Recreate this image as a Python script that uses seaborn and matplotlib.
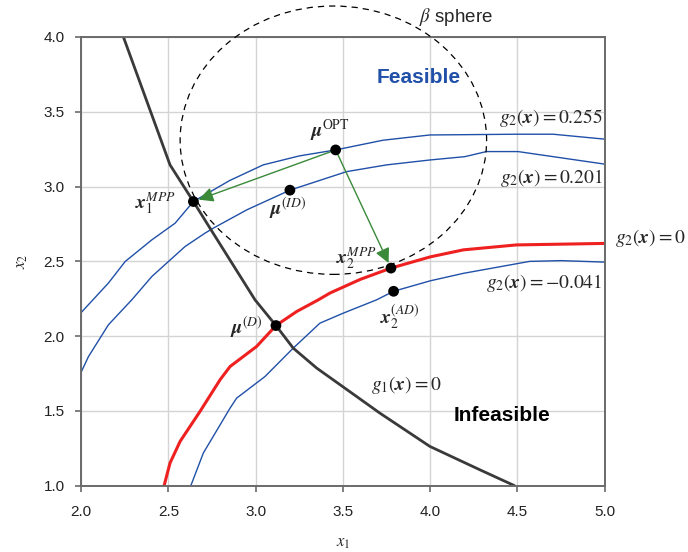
import numpy as np
import matplotlib
matplotlib.use("Agg")
import matplotlib.pyplot as plt
from matplotlib.patches import Ellipse
import seaborn as sns

### Data

# g1(x) = 0 limit state
g1_x = [2.242, 2.509, 2.643, 2.738, 2.996, 3.116, 3.215, 3.349, 3.502, 3.711, 3.998, 4.284, 4.484]
g1_y = [4.000, 3.145, 2.900, 2.722, 2.243, 2.071, 1.920, 1.787, 1.660, 1.486, 1.263, 1.107, 1.000]

# g2(x) = 0 limit state
g2_0_x = [2.475, 2.509, 2.567, 2.681, 2.796, 2.853, 3.005, 3.116, 3.235, 3.359, 3.425, 3.600, 3.775, 4.000, 4.190, 4.494, 5.000]
g2_0_y = [1.000, 1.152, 1.297, 1.497, 1.709, 1.797, 1.931, 2.071, 2.165, 2.243, 2.288, 2.380, 2.455, 2.530, 2.577, 2.610, 2.620]

# g2(x) = -0.041
g2_m041_x = [2.628, 2.700, 2.853, 2.891, 3.053, 3.215, 3.368, 3.502, 3.693, 3.790, 4.000, 4.190, 4.570, 4.750, 5.000]
g2_m041_y = [1.000, 1.219, 1.519, 1.586, 1.730, 1.920, 2.087, 2.154, 2.243, 2.300, 2.370, 2.420, 2.500, 2.505, 2.495]

# g2(x) = 0.255
g2_255_x = [2.000, 2.156, 2.252, 2.405, 2.538, 2.643, 2.850, 3.043, 3.250, 3.458, 3.730, 3.998, 4.500, 4.704, 5.000]
g2_255_y = [2.158, 2.355, 2.499, 2.644, 2.755, 2.900, 3.040, 3.145, 3.205, 3.245, 3.310, 3.345, 3.350, 3.350, 3.317]

# g2(x) = 0.201
g2_201_x = [2.000, 2.042, 2.156, 2.290, 2.405, 2.500, 2.595, 2.710, 2.757, 2.950, 3.196, 3.521, 3.750, 4.000, 4.198, 4.322, 4.503, 5.000]
g2_201_y = [1.760, 1.864, 2.076, 2.243, 2.399, 2.499, 2.599, 2.689, 2.722, 2.845, 2.976, 3.100, 3.145, 3.178, 3.200, 3.234, 3.234, 3.150]

# marked design points
pt_names = ["mu_opt", "mu_id", "x1_mpp", "x2_mpp", "x2_ad", "mu_d"]
pt_x = [3.458, 3.196, 2.643, 3.775, 3.790, 3.116]
pt_y = [3.245, 2.976, 2.900, 2.455, 2.300, 2.071]

# beta sphere (centre and half-axes in data units)
beta_centre = (3.445, 3.31)
beta_rx, beta_ry = 0.878, 0.897

### Styling

sns.set_style("white")
plt.rcParams["font.family"] = ["Liberation Sans", "DejaVu Sans"]
plt.rcParams["mathtext.fontset"] = "stix"

BLUE = "#2050a8"
RED = "#ee2020"
DARK = "#3a3a3a"
GREEN = "#3a8a3a"
SPINE = "#6a6a6a"

fig = plt.figure(figsize=(6.88, 5.52), dpi=100)
ax = fig.add_axes([0.118, 0.120, 0.761, 0.813])

for xs, ys in [(g2_255_x, g2_255_y), (g2_201_x, g2_201_y), (g2_m041_x, g2_m041_y)]:
    sns.lineplot(x=xs, y=ys, sort=False, estimator=None, color=BLUE, lw=1.0, ax=ax)
sns.lineplot(x=g2_0_x, y=g2_0_y, sort=False, estimator=None, color=RED, lw=2.2, ax=ax)
sns.lineplot(x=g1_x, y=g1_y, sort=False, estimator=None, color=DARK, lw=2.0, ax=ax)

ell = Ellipse(beta_centre, 2 * beta_rx, 2 * beta_ry, fill=False, ls=(0, (5, 4)),
              lw=0.9, color="black", clip_on=False, zorder=3)
ax.add_patch(ell)

# arrows from the optimum to the two MPPs
for i in [2, 3]:
    ax.annotate("", xy=(pt_x[i], pt_y[i]), xytext=(pt_x[0], pt_y[0]),
                arrowprops=dict(arrowstyle="-|>", color=GREEN, lw=1.0,
                                mutation_scale=22, shrinkA=0, shrinkB=4),
                zorder=4)

sns.scatterplot(x=pt_x, y=pt_y, color="black", s=60, edgecolor="none", zorder=5, ax=ax)

# axes, grid, ticks
ax.set_xlim(2.0, 5.0)
ax.set_ylim(1.0, 4.0)
ax.set_xticks(np.arange(2.0, 5.01, 0.5))
ax.set_yticks(np.arange(1.0, 4.01, 0.5))
ax.set_xticklabels([f"{v:.1f}" for v in np.arange(2.0, 5.01, 0.5)])
ax.set_yticklabels([f"{v:.1f}" for v in np.arange(1.0, 4.01, 0.5)])
ax.grid(True, color="#d4d4d4", lw=1.0)
ax.set_axisbelow(True)
for s in ax.spines.values():
    s.set_color(SPINE)
    s.set_linewidth(1.4)
ax.tick_params(axis="both", which="both", direction="out", length=4, width=1.2,
               color=SPINE, labelsize=11, labelcolor="#222222")
ax.tick_params(axis="x", pad=10)
ax.tick_params(axis="y", pad=8)
ax.tick_params(top=False, right=False, bottom=True, left=True)

ax.set_xlabel("$x_1$", fontsize=12, labelpad=12)
ax.set_ylabel("$x_2$", fontsize=12, labelpad=10)

# labels
ts = 14
ax.text(3.425, 3.372, r"$\mathbfit{\mu}^{\mathrm{OPT}}$", fontsize=ts, ha="center", va="center")
ax.text(3.185, 2.858, r"$\mathbfit{\mu}^{(ID)}$", fontsize=ts, ha="center", va="center")
ax.text(2.424, 2.891, r"$\mathbfit{x}_1^{MPP}$", fontsize=ts, ha="center", va="center")
ax.text(3.58, 2.524, r"$\mathbfit{x}_2^{MPP}$", fontsize=ts, ha="center", va="center")
ax.text(3.826, 2.123, r"$\mathbfit{x}_2^{(AD)}$", fontsize=ts, ha="center", va="center")
ax.text(2.944, 2.063, r"$\mathbfit{\mu}^{(D)}$", fontsize=ts, ha="center", va="center")

ax.text(4.988, 3.459, r"$g_2(\mathbfit{x}) = 0.255$", fontsize=ts, ha="right", va="center")
ax.text(4.988, 3.058, r"$g_2(\mathbfit{x}) = 0.201$", fontsize=ts, ha="right", va="center")
ax.text(5.057, 2.657, r"$g_2(\mathbfit{x}) = 0$", fontsize=ts, ha="left", va="center", clip_on=False)
ax.text(4.988, 2.357, r"$g_2(\mathbfit{x}) = -0.041$", fontsize=ts, ha="right", va="center")
ax.text(3.86, 1.675, r"$g_1(\mathbfit{x}) = 0$", fontsize=ts, ha="center", va="center")

ax.text(3.935, 3.726, "Feasible", fontsize=15, fontweight="bold", color=BLUE, ha="center", va="center")
ax.text(4.41, 1.468, "Infeasible", fontsize=15, fontweight="bold", color="black", ha="center", va="center")
ax.text(4.147, 4.134, r"$\beta$ sphere", fontsize=13.5, ha="center", va="center", clip_on=False)

fig.savefig("out.png", dpi=100)
